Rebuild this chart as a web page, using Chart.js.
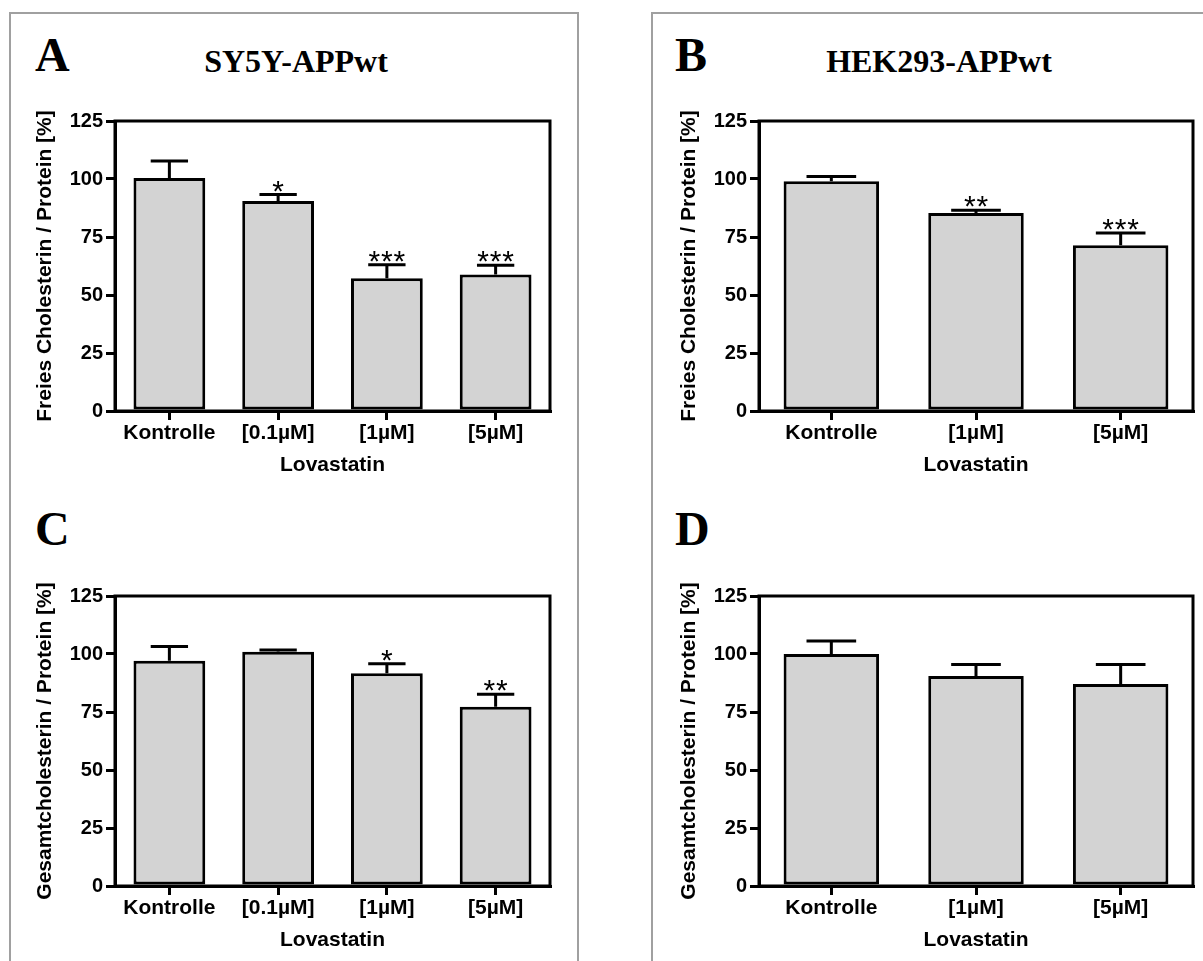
<!DOCTYPE html>
<html>
<head>
<meta charset="utf-8">
<script src="https://cdn.jsdelivr.net/npm/chart.js@4.4.1/dist/chart.umd.min.js"></script>
<style>
  html, body { margin:0; padding:0; background:#fff; width:1203px; height:961px; overflow:hidden; }
  .box { position:absolute; border:2px solid #a0a0a0; border-bottom:none; }
  .letter { position:absolute; font-family:'Liberation Serif','Times New Roman',serif; font-weight:bold; font-size:48px; line-height:48px; color:#000; }
  .title { position:absolute; font-family:'Liberation Serif','Times New Roman',serif; font-weight:bold; font-size:32px; line-height:32px; color:#000; transform:translateX(-50%); white-space:nowrap; }
  canvas { position:absolute; }
</style>
</head>
<body>
<div class="box" style="left:9px; top:12px; width:566px; height:960px;"></div>
<div class="box" style="left:651px; top:12px; width:600px; height:960px;"></div>

<div class="letter" style="left:35px; top:31px;">A</div>
<div class="letter" style="left:675px; top:31px;">B</div>
<div class="letter" style="left:35px; top:505px;">C</div>
<div class="letter" style="left:675px; top:505px;">D</div>
<div class="title" style="left:296px; top:45px;">SY5Y-APPwt</div>
<div class="title" style="left:939px; top:45px;">HEK293-APPwt</div>

<canvas id="chartA" width="544" height="390" style="left:16px; top:100px;"></canvas>
<canvas id="chartB" width="540" height="390" style="left:660px; top:100px;"></canvas>
<canvas id="chartC" width="544" height="390" style="left:16px; top:575px;"></canvas>
<canvas id="chartD" width="540" height="390" style="left:660px; top:575px;"></canvas>

<script>
// ---- data ----
const categoriesSY5Y = ['Kontrolle', '[0.1µM]', '[1µM]', '[5µM]'];
const categoriesHEK = ['Kontrolle', '[1µM]', '[5µM]'];
const xAxisTitle = 'Lovastatin';
const yTitleFree = 'Freies Cholesterin / Protein [%]';
const yTitleTotal = 'Gesamtcholesterin / Protein [%]';
const yMin = 0, yMax = 125, yStep = 25;

// A: free cholesterol, SY5Y
const freeSY5Y = [100.4, 90.5, 57.2, 58.8];
const freeSY5YErr = [7.4, 2.8, 5.8, 4.0];
const freeSY5YSig = ['', '*', '***', '***'];
// B: free cholesterol, HEK293
const freeHEK = [99.0, 85.3, 71.4];
const freeHEKErr = [2.1, 1.2, 5.3];
const freeHEKSig = ['', '**', '***'];
// C: total cholesterol, SY5Y
const totalSY5Y = [97.1, 101.0, 91.7, 77.3];
const totalSY5YErr = [6.1, 0.7, 4.1, 5.3];
const totalSY5YSig = ['', '', '*', '**'];
// D: total cholesterol, HEK293
const totalHEK = [100.0, 90.5, 87.1];
const totalHEKErr = [5.6, 5.0, 8.4];
const totalHEKSig = ['', '', ''];

// ---- drawing ----
const SANS = "'Liberation Sans', Arial, Helvetica, sans-serif";
Chart.defaults.font.family = SANS;
Chart.defaults.color = '#000';

const framePlugin = {
  id: 'frame',
  afterDraw(chart) {
    const {ctx, chartArea: a} = chart;
    ctx.save();
    ctx.strokeStyle = '#000';
    ctx.lineWidth = 3;
    ctx.strokeRect(a.left, a.top, a.right - a.left, a.bottom - a.top);
    ctx.restore();
  }
};

const errorPlugin = {
  id: 'errbars',
  afterDatasetsDraw(chart, args, opts) {
    const {ctx} = chart;
    const y = chart.scales.y;
    const meta = chart.getDatasetMeta(0);
    const ds = chart.data.datasets[0];
    ctx.save();
    ctx.strokeStyle = '#000';
    ctx.fillStyle = '#000';
    ctx.lineWidth = 3;
    meta.data.forEach((bar, i) => {
      const v = ds.data[i];
      const e = opts.errors[i];
      const x = bar.x;
      const yTop = y.getPixelForValue(v);
      const yCap = y.getPixelForValue(v + e);
      const capHalf = bar.width * 0.26;
      ctx.beginPath();
      ctx.moveTo(x, yTop);
      ctx.lineTo(x, yCap);
      ctx.moveTo(x - capHalf, yCap);
      ctx.lineTo(x + capHalf, yCap);
      ctx.stroke();
      const s = opts.stars[i];
      if (s) {
        ctx.font = '30px ' + SANS;
        ctx.textAlign = 'center';
        ctx.textBaseline = 'alphabetic';
        const m = ctx.measureText('*');
        const base = yCap - 3 - m.actualBoundingBoxDescent;
        const n = s.length;
        const sp = 12.5;
        for (let k = 0; k < n; k++) {
          ctx.fillText('*', x + (k - (n - 1) / 2) * sp, base);
        }
      }
    });
    ctx.restore();
  }
};

function makePanel(id, labels, values, errors, stars, yTitle, padRight) {
  const ctx = document.getElementById(id).getContext('2d');
  return new Chart(ctx, {
    type: 'bar',
    data: {
      labels: labels,
      datasets: [{
        data: values,
        backgroundColor: '#d3d3d3',
        borderColor: '#000',
        borderWidth: 3,
        borderSkipped: false,
        categoryPercentage: 1.0,
        barPercentage: 0.66
      }]
    },
    options: {
      responsive: false,
      animation: false,
      devicePixelRatio: 1,
      layout: { padding: { top: 21, right: padRight, left: 0, bottom: 0 } },
      plugins: {
        legend: { display: false },
        tooltip: { enabled: false },
        errbars: { errors: errors, stars: stars }
      },
      scales: {
        x: {
          offset: true,
          grid: { offset: false, drawOnChartArea: false, drawTicks: true, tickLength: 9, lineWidth: 3, color: '#000' },
          border: { display: true, color: '#000', width: 3 },
          ticks: { font: { size: 21, weight: 'bold' }, padding: 1, color: '#000', maxRotation: 0, autoSkip: false },
          title: { display: true, text: xAxisTitle, font: { size: 21, weight: 'bold' }, color: '#000', padding: { top: 0, bottom: 12 } },
          afterFit(scale) { scale.height = 79; }
        },
        y: {
          min: yMin, max: yMax,
          grid: { drawOnChartArea: false, drawTicks: true, tickLength: 9, lineWidth: 3, color: '#000' },
          border: { display: true, color: '#000', width: 3 },
          ticks: { stepSize: yStep, font: { size: 20, weight: 'bold' }, padding: 3, color: '#000' },
          title: { display: true, text: yTitle, font: { size: 21, weight: 'bold' }, color: '#000', padding: { top: 17, bottom: 0 } },
          afterFit(scale) { scale.width = 99; }
        }
      }
    },
    plugins: [errorPlugin, framePlugin]
  });
}

makePanel('chartA', categoriesSY5Y, freeSY5Y, freeSY5YErr, freeSY5YSig, yTitleFree, 10);
makePanel('chartB', categoriesHEK, freeHEK, freeHEKErr, freeHEKSig, yTitleFree, 7);
makePanel('chartC', categoriesSY5Y, totalSY5Y, totalSY5YErr, totalSY5YSig, yTitleTotal, 10);
makePanel('chartD', categoriesHEK, totalHEK, totalHEKErr, totalHEKSig, yTitleTotal, 7);
</script>
</body>
</html>
